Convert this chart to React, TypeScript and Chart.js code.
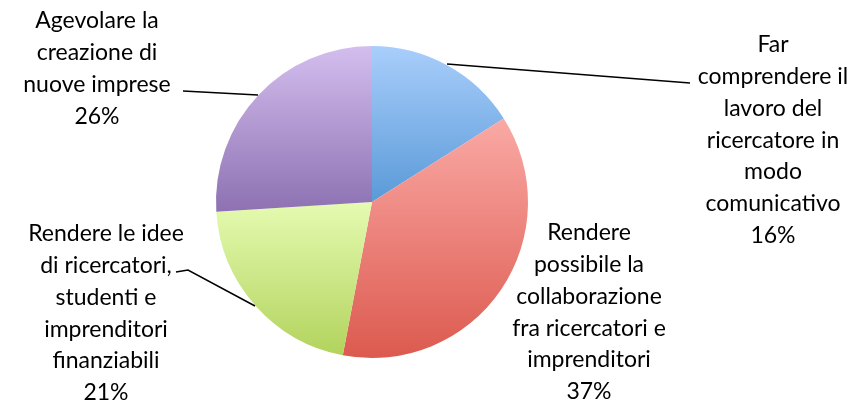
import React, { useEffect, useRef } from "react";
import { Chart, registerables } from "chart.js";

Chart.register(...registerables);

const categories: string[][] = [
  ["Far", "comprendere il", "lavoro del", "ricercatore in", "modo", "comunicativo"],
  ["Rendere", "possibile la", "collaborazione", "fra ricercatori e", "imprenditori"],
  ["Rendere le idee", "di ricercatori,", "studenti e", "imprenditori", "finanziabili"],
  ["Agevolare la", "creazione di", "nuove imprese"],
];
const values: number[] = [16, 37, 21, 26];
const topColors: string[] = ["#a9cefb", "#faa9a5", "#e5fbb1", "#d4beee"];
const bottomColors: string[] = ["#5a9ad8", "#dc5a4f", "#b2d35d", "#8d71b2"];

const FONT = "23px Lato, 'Noto Sans', sans-serif";
const LINE_H = 31.7;

function sliceBox(chart: any, i: number) {
  const a = chart.chartArea;
  const cx = (a.left + a.right) / 2;
  const cy = (a.top + a.bottom) / 2;
  const r = Math.min(a.right - a.left, a.bottom - a.top) / 2;
  const total = values.reduce((s, v) => s + v, 0);
  let start = -Math.PI / 2;
  for (let k = 0; k < i; k++) start += (values[k] / total) * Math.PI * 2;
  const end = start + (values[i] / total) * Math.PI * 2;
  const ys = [cy, cy + r * Math.sin(start), cy + r * Math.sin(end)];
  for (let t = -Math.PI / 2; t <= Math.PI * 2.5; t += Math.PI / 2) {
    if (t > start && t < end) ys.push(cy + r * Math.sin(t));
  }
  return { top: Math.min(...ys), bottom: Math.max(...ys) };
}

const labelPlugin = {
  id: "pieLabels",
  afterDraw(chart: any) {
    const ctx = chart.ctx;
    ctx.save();
    ctx.font = FONT;
    ctx.fillStyle = "#000";
    ctx.textAlign = "center";
    ctx.textBaseline = "middle";
    const anchors = [
      { x: 773, y: 45 },
      { x: 589, y: 233 },
      { x: 106, y: 234 },
      { x: 97, y: 21 },
    ];
    categories.forEach((lines, i) => {
      const all = [...lines, values[i] + "%"];
      all.forEach((ln, j) => {
        ctx.fillText(ln, anchors[i].x, anchors[i].y + j * LINE_H);
      });
    });
    ctx.strokeStyle = "#000";
    ctx.lineWidth = 1.5;
    ctx.beginPath();
    ctx.moveTo(447, 64);
    ctx.lineTo(690, 83);
    ctx.moveTo(183, 91);
    ctx.lineTo(258, 95);
    ctx.moveTo(176, 272);
    ctx.lineTo(188, 270);
    ctx.lineTo(255, 306);
    ctx.stroke();
    ctx.restore();
  },
};

export default function App() {
  const ref = useRef<HTMLCanvasElement>(null);
  useEffect(() => {
    document.body.style.margin = "0";
    const chart = new Chart(ref.current!, {
      type: "pie",
      data: {
        labels: categories.map((c) => c.join(" ")),
        datasets: [
          {
            data: values,
            borderWidth: 0,
            backgroundColor: (context: any) => {
              const c = context.chart;
              if (!c.chartArea) return topColors[context.dataIndex];
              const i = context.dataIndex;
              const b = sliceBox(c, i);
              const g = c.ctx.createLinearGradient(0, b.top, 0, b.bottom);
              g.addColorStop(0, topColors[i]);
              g.addColorStop(1, bottomColors[i]);
              return g;
            },
          },
        ],
      },
      options: {
        animation: false,
        responsive: false,
        layout: { padding: { left: 216, right: 334, top: 46, bottom: 44 } },
        plugins: {
          legend: { display: false },
          tooltip: { enabled: false },
        },
      },
      plugins: [labelPlugin],
    });
    return () => chart.destroy();
  }, []);
  return (
    <div style={{ position: "absolute", left: 0, top: 0, width: 862, height: 402, background: "#fff" }}>
      <canvas ref={ref} width={862} height={402} style={{ width: 862, height: 402 }} />
    </div>
  );
}
